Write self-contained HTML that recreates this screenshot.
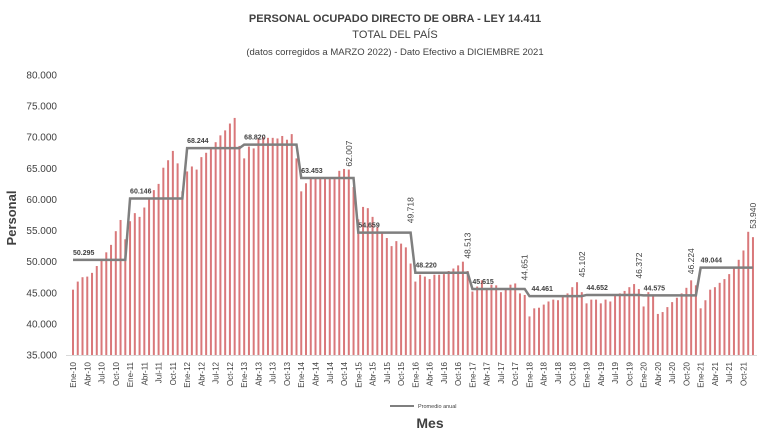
<!DOCTYPE html>
<html><head><meta charset="utf-8"><style>
html,body{margin:0;padding:0;background:#fff;}
svg{display:block;font-family:"Liberation Sans",sans-serif;}
</style></head><body>
<svg id="c" width="761" height="431" xmlns="http://www.w3.org/2000/svg">
<text x="395" y="22" text-anchor="middle" font-size="11" font-weight="bold" fill="#404040">PERSONAL OCUPADO DIRECTO DE OBRA - LEY 14.411</text>
<text x="395" y="38" text-anchor="middle" font-size="11" fill="#404040">TOTAL DEL PAÍS</text>
<text x="395" y="55" text-anchor="middle" font-size="9.5" fill="#404040">(datos corregidos a MARZO 2022) - Dato Efectivo a DICIEMBRE 2021</text>
<text transform="translate(16,218) rotate(-90)" text-anchor="middle" font-size="13" font-weight="bold" fill="#404040">Personal</text>
<text x="430" y="428" text-anchor="middle" font-size="14" font-weight="bold" fill="#404040">Mes</text>
<line x1="390" y1="406" x2="414" y2="406" stroke="#7f7f7f" stroke-width="2"/>
<text x="418" y="408" font-size="5.5" fill="#404040">Promedio anual</text>
</svg>
<script>
const s=document.getElementById('c'),NS='http://www.w3.org/2000/svg';
function el(t,a,txt){const e=document.createElementNS(NS,t);for(const k in a)e.setAttribute(k,a[k]);if(txt!=null)e.textContent=txt;s.appendChild(e);return e;}
const Y=v=>355-(v-35000)*280/45000, X=i=>73+i*4.755;
for(let v=35000;v<=80000;v+=5000){el('text',{x:57,y:Y(v)+3.5,'text-anchor':'end','font-size':10,fill:'#404040'},(v/1000).toFixed(3));}
const d=[45.5,46.8,47.5,47.6,48.2,49.3,50.2,51.5,52.7,54.9,56.7,53.6,
56.5,57.8,57.2,58.7,60.2,61.5,62.5,65.1,66.3,67.8,65.8,61.3,
64.5,65.3,64.8,66.8,67.5,68.3,69.2,70.3,71.1,72.2,73.1,68.6,
66.6,68.5,68.2,69.8,70.0,69.9,69.9,69.8,70.2,69.6,70.5,66.6,
61.3,62.6,63.3,63.4,63.4,63.4,63.4,63.4,64.6,64.9,64.8,62.0,
56.8,58.8,58.6,57.2,55.5,54.7,53.8,52.5,53.3,52.9,52.3,49.7,
46.8,47.9,47.6,47.2,47.9,47.9,48.0,48.5,48.9,49.4,50.0,48.5,
45.2,46.0,47.0,45.6,46.3,46.2,45.1,45.5,46.3,46.5,44.9,44.65,
41.2,42.5,42.6,43.1,43.6,43.9,43.8,44.4,44.9,45.9,46.7,45.1,
43.3,43.9,43.9,43.3,43.9,43.6,44.5,44.9,45.3,45.9,46.4,45.6,
42.8,45.1,44.6,41.6,41.9,42.7,43.5,44.2,44.9,45.8,47.0,46.2,
42.5,43.8,45.5,45.9,46.6,47.2,48.0,49.1,50.3,51.8,54.8,53.94];
d.forEach((v,i)=>{const y=Y(v*1000);el('rect',{x:X(i)-1,y:y,width:2,height:355-y,fill:'#d9787a'});});
el('line',{x1:66,y1:355.5,x2:757,y2:355.5,stroke:'#d9d9d9','stroke-width':1});
const m=['Ene','Abr','Jul','Oct'];
for(let i=0;i<144;i+=3){const lb=m[(i%12)/3]+'-'+(10+Math.floor(i/12));
el('text',{transform:`translate(${X(i)+3},362) rotate(-90)`,'text-anchor':'end','font-size':8,fill:'#404040'},lb);}
const a=[50295,60146,68244,68820,63453,54659,48220,45615,44461,44652,44575,49044];
let p='';a.forEach((v,k)=>{p+=(k?'L':'M')+X(k*12)+','+Y(v)+'L'+X(k*12+11)+','+Y(v);
el('text',{x:X(k*12)+(k==8?2:0),y:Y(v)-5,'font-size':7,'font-weight':'bold',fill:'#404040'},(v/1000).toFixed(3));});
el('path',{d:p,fill:'none',stroke:'#7f7f7f','stroke-width':2.5});
const r=[[58,'62.007',64800],[71,'49.718',55700],[83,'48.513',50000],[95,'44.651',46500],[107,'45.102',47000],[119,'46.372',46800],[130,'46.224',47500],[143,'53.940',54800]];
r.forEach(([i,t,v])=>el('text',{transform:`translate(${X(i)+3},${Y(v)-3}) rotate(-90)`,'font-size':8.5,fill:'#404040'},t));
</script>
</body></html>
